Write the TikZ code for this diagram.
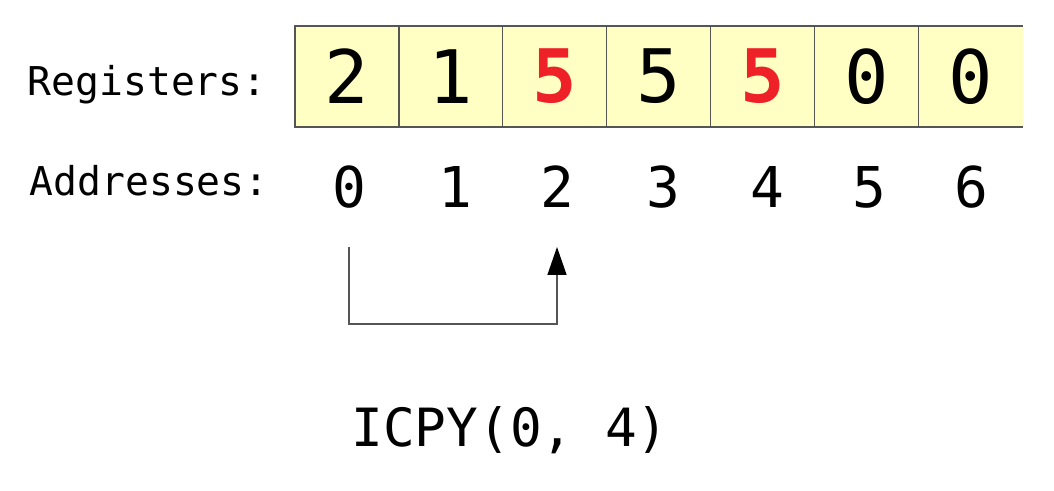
\documentclass[tikz,border=0pt]{standalone}
\usepackage{fontspec}
\usepackage{xcolor}
\usepackage{tikz}
\usetikzlibrary{positioning,arrows.meta}

\newfontfamily\monofont{DejaVu Sans Mono}
\definecolor{cellfill}{RGB}{255,255,196}
\definecolor{hot}{RGB}{238,32,40}
\definecolor{wire}{RGB}{85,85,85}

\tikzset{
  reg/.style={rectangle, draw=wire, line width=0.6pt, fill=cellfill, minimum width=2.08cm, minimum height=2.02cm, inner sep=0pt, outer sep=0pt, font=\monofont\fontsize{42}{42}\selectfont},
  hotreg/.style={reg, text=hot, font=\monofont\bfseries\fontsize{42}{42}\selectfont},
  addr/.style={anchor=base, inner sep=0pt, font=\monofont\fontsize{32}{32}\selectfont},
  lbl/.style={anchor=base east, inner sep=0pt, font=\monofont\fontsize{22.6}{24}\selectfont},
}

\begin{document}
\begin{tikzpicture}[x=0.02cm, y=-0.02cm]
				\useasboundingbox (0,0) rectangle (1054,490);
				\node[reg, anchor=north west] (r0) at (295,26) {2};
				\node[reg, right=0pt of r0] (r1) {1};
				\node[hotreg, right=0pt of r1] (r2) {5};
				\node[reg, right=0pt of r2] (r3) {5};
				\node[hotreg, right=0pt of r3] (r4) {5};
				\node[reg, right=0pt of r4] (r5) {0};
				\node[reg, draw=none, right=0pt of r5] (r6) {0};
				\draw[wire, line width=0.6pt] (r5.north east) -- (r6.north east) (r5.south east) -- (r6.south east);
				
				\node[lbl] (reglbl) at (267,95) {Registers:};
				\node[lbl] (addrlbl) at (269,195) {Addresses:};
				
				\node[addr] (a0) at (349,207) {0};
				\node[addr] (a1) at (455,207) {1};
				\node[addr] (a2) at (557,207) {2};
				\node[addr] (a3) at (663,207) {3};
				\node[addr] (a4) at (767,207) {4};
				\node[addr] (a5) at (869,207) {5};
				\node[addr] (a6) at (971,207) {6};
				
				\node[anchor=base west, inner sep=0pt, font=\monofont\fontsize{30}{31}\selectfont] (op) at (351,446) {ICPY(0, 4)};
				
				\draw[wire, line width=0.85pt, -{Triangle[length=0.56cm, width=0.38cm, black]}] ([yshift=-0.8cm]a0.base) -- ++(0,77) -| ([yshift=-0.8cm]a2.base);
			\end{tikzpicture}
\end{document}
